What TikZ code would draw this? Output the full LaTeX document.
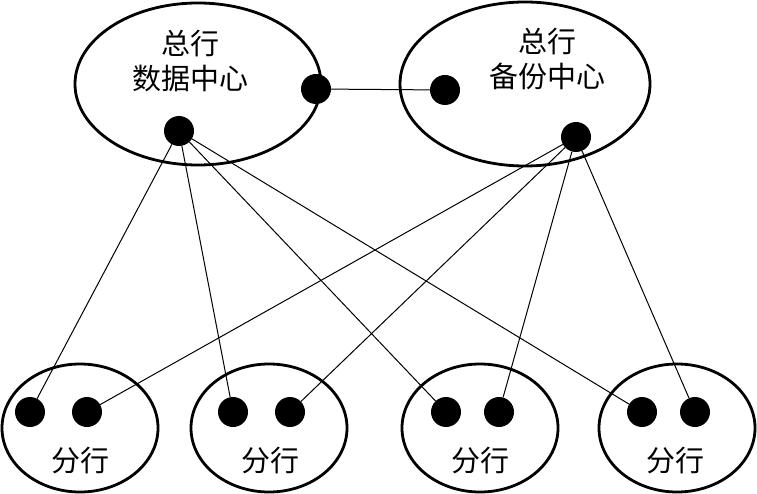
\documentclass[tikz,border=0pt]{standalone}
\usepackage{fontspec}
\newfontfamily\cjk{Noto Sans CJK SC}
\usetikzlibrary{shapes.geometric}
\tikzset{
  hqoval/.style={draw=black,ellipse,line width=2.8pt,inner sep=0pt,
                 minimum width=246pt,minimum height=162pt},
  branchoval/.style={draw=black,ellipse,line width=2.8pt,inner sep=0pt,
                     minimum width=156pt,minimum height=128pt},
  portdot/.style={circle,fill=black,inner sep=0pt,minimum size=30pt},
  ovaltext/.style={align=center,inner sep=0pt,
                   font=\cjk\fontsize{29}{35}\selectfont},
  linkline/.style={line width=1pt}
}
\begin{document}
\begin{tikzpicture}[x=1pt,y=-1pt]
  \useasboundingbox (0,0) rectangle (757,494);
  % head office and backup centre
  \node[hqoval] (dc) at (198,84) {};
  \node[hqoval,minimum width=250pt,minimum height=164pt] (bk) at (525,84) {};
  \node[ovaltext] (dctxt) at (190,61) {总行\\数据中心};
  \node[ovaltext] (bktxt) at (547,59) {总行\\备份中心};
  % branches
  \node[branchoval] (b1) at (80,428) {};
  \node[branchoval] (b2) at (269,428) {};
  \node[branchoval] (b3) at (480,428) {};
  \node[branchoval] (b4) at (677,428) {};
  \node[ovaltext] (b1txt) at (80,461) {分行};
  \node[ovaltext] (b2txt) at (270,461) {分行};
  \node[ovaltext] (b3txt) at (480,461) {分行};
  \node[ovaltext] (b4txt) at (675,461) {分行};
  % ports
  \node[portdot] (dcr) at (316,89) {};
  \node[portdot] (dcb) at (179,131) {};
  \node[portdot] (bkl) at (445,90) {};
  \node[portdot] (bkb) at (576,137) {};
  \node[portdot] (b1l) at (30,412) {};  \node[portdot] (b1r) at (87,412) {};
  \node[portdot] (b2l) at (233,412) {}; \node[portdot] (b2r) at (290,412) {};
  \node[portdot] (b3l) at (446,412) {}; \node[portdot] (b3r) at (499,412) {};
  \node[portdot] (b4l) at (642,412) {}; \node[portdot] (b4r) at (695,412) {};
  % links
  \draw[linkline] (dcr)--(bkl);
  \draw[linkline] (dcb)--(b1l);
  \draw[linkline] (dcb)--(b2l);
  \draw[linkline] (dcb)--(b3l);
  \draw[linkline] (dcb)--(b4l);
  \draw[linkline] (bkb)--(b1r);
  \draw[linkline] (bkb)--(b2r);
  \draw[linkline] (bkb)--(b3r);
  \draw[linkline] (bkb)--(b4r);
\end{tikzpicture}
\end{document}
